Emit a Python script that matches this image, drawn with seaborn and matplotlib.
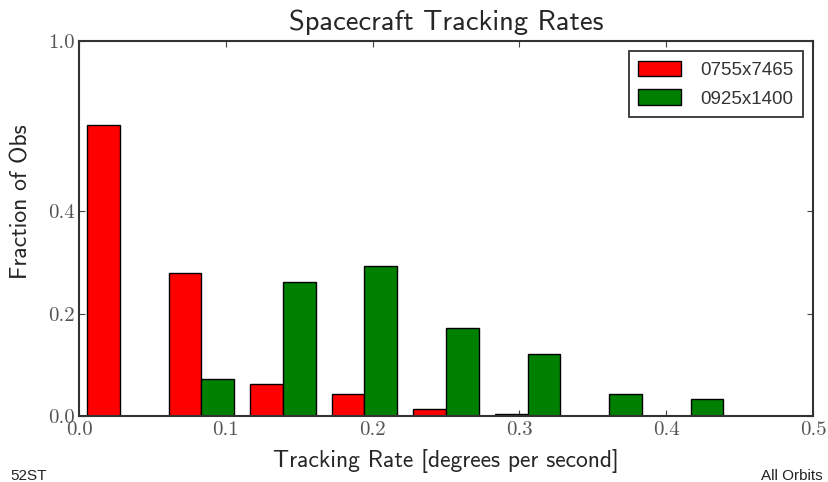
import numpy as np
import pandas as pd
import matplotlib
matplotlib.use("Agg")
import matplotlib.pyplot as plt
from matplotlib.patches import Patch
import seaborn as sns

# ---- data ----
bin_edges = np.linspace(0.0, 0.5, 10)          # 9 histogram bins
series_names = ["0755x7465", "0925x1400"]
series_colors = ["#ff0000", "#008000"]
frac_0755 = [0.568, 0.280, 0.063, 0.042, 0.013, 0.003, 0.0, 0.0, 0.0]
frac_0925 = [0.0, 0.072, 0.262, 0.292, 0.172, 0.122, 0.043, 0.033, 0.0]
ytick_vals = [0.0, 0.2, 0.4, 0.732]
ytick_labels = ["0.0", "0.2", "0.4", "1.0"]
xtick_vals = [0.0, 0.1, 0.2, 0.3, 0.4, 0.5]
xtick_labels = ["0.0", "0.1", "0.2", "0.3", "0.4", "0.5"]

centers = (bin_edges[:-1] + bin_edges[1:]) / 2
df = pd.DataFrame({
    "rate": np.concatenate([centers, centers]),
    "fraction": frac_0755 + frac_0925,
    "series": [series_names[0]] * len(centers) + [series_names[1]] * len(centers),
})

sns.set_style("ticks")
plt.rcParams.update({
    "xtick.direction": "in", "ytick.direction": "in",
    "xtick.top": True, "ytick.right": True,
    "xtick.major.size": 4, "ytick.major.size": 4,
    "xtick.color": "#444444", "ytick.color": "#444444",
    "axes.edgecolor": "#333333", "axes.linewidth": 1.5,
})

fig = plt.figure(figsize=(8.29, 4.82), dpi=100)
ax = fig.add_axes([0.0953, 0.1369, 0.9807 - 0.0953, 0.9149 - 0.1369])

palette = dict(zip(series_names, series_colors))
sns.barplot(data=df, x="rate", y="fraction", hue="series", hue_order=series_names,
            palette=palette, native_scale=True, errorbar=None, width=0.8,
            edgecolor="black", linewidth=1.0, saturation=1, ax=ax, legend=False)

ax.set_xlim(0.0, 0.5)
ax.set_ylim(0.0, ytick_vals[-1])
ax.set_xticks(xtick_vals)
ax.set_xticklabels(xtick_labels, family="cmr10", fontsize=15, color="#555555")
ax.set_yticks(ytick_vals)
ax.set_yticklabels(ytick_labels, family="cmr10", fontsize=15, color="#555555")
ax.tick_params(axis="x", pad=4)
ax.tick_params(axis="y", pad=3)

ax.set_title("Spacecraft Tracking Rates", family="cmss10", fontsize=20.5, pad=8)
ax.set_xlabel("Tracking Rate [degrees per second]", family="cmss10", fontsize=17, labelpad=7)
ax.set_ylabel("Fraction of Obs", family="cmss10", fontsize=17)
ax.yaxis.set_label_coords(-0.064, 0.571)

handles = [Patch(facecolor=c, edgecolor="black", linewidth=1.0) for c in series_colors]
leg = ax.legend(handles, series_names, loc="upper right", frameon=True, fancybox=False,
                edgecolor="black", prop={"family": "Liberation Sans", "size": 13.5},
                handlelength=2.3, handleheight=0.9, borderaxespad=0.55,
                labelspacing=0.55, handletextpad=1.0, borderpad=0.5)
leg.get_frame().set_linewidth(1.3)
for t in leg.get_texts():
    t.set_color("#333333")

fig.text(10 / 829, 2 / 482, "52ST", family="Liberation Sans", fontsize=11,
         ha="left", va="baseline", color="#222222")
fig.text(761 / 829, 2 / 482, "All Orbits", family="Liberation Sans", fontsize=11,
         ha="left", va="baseline", color="#222222")

fig.savefig("out.png", dpi=100)
